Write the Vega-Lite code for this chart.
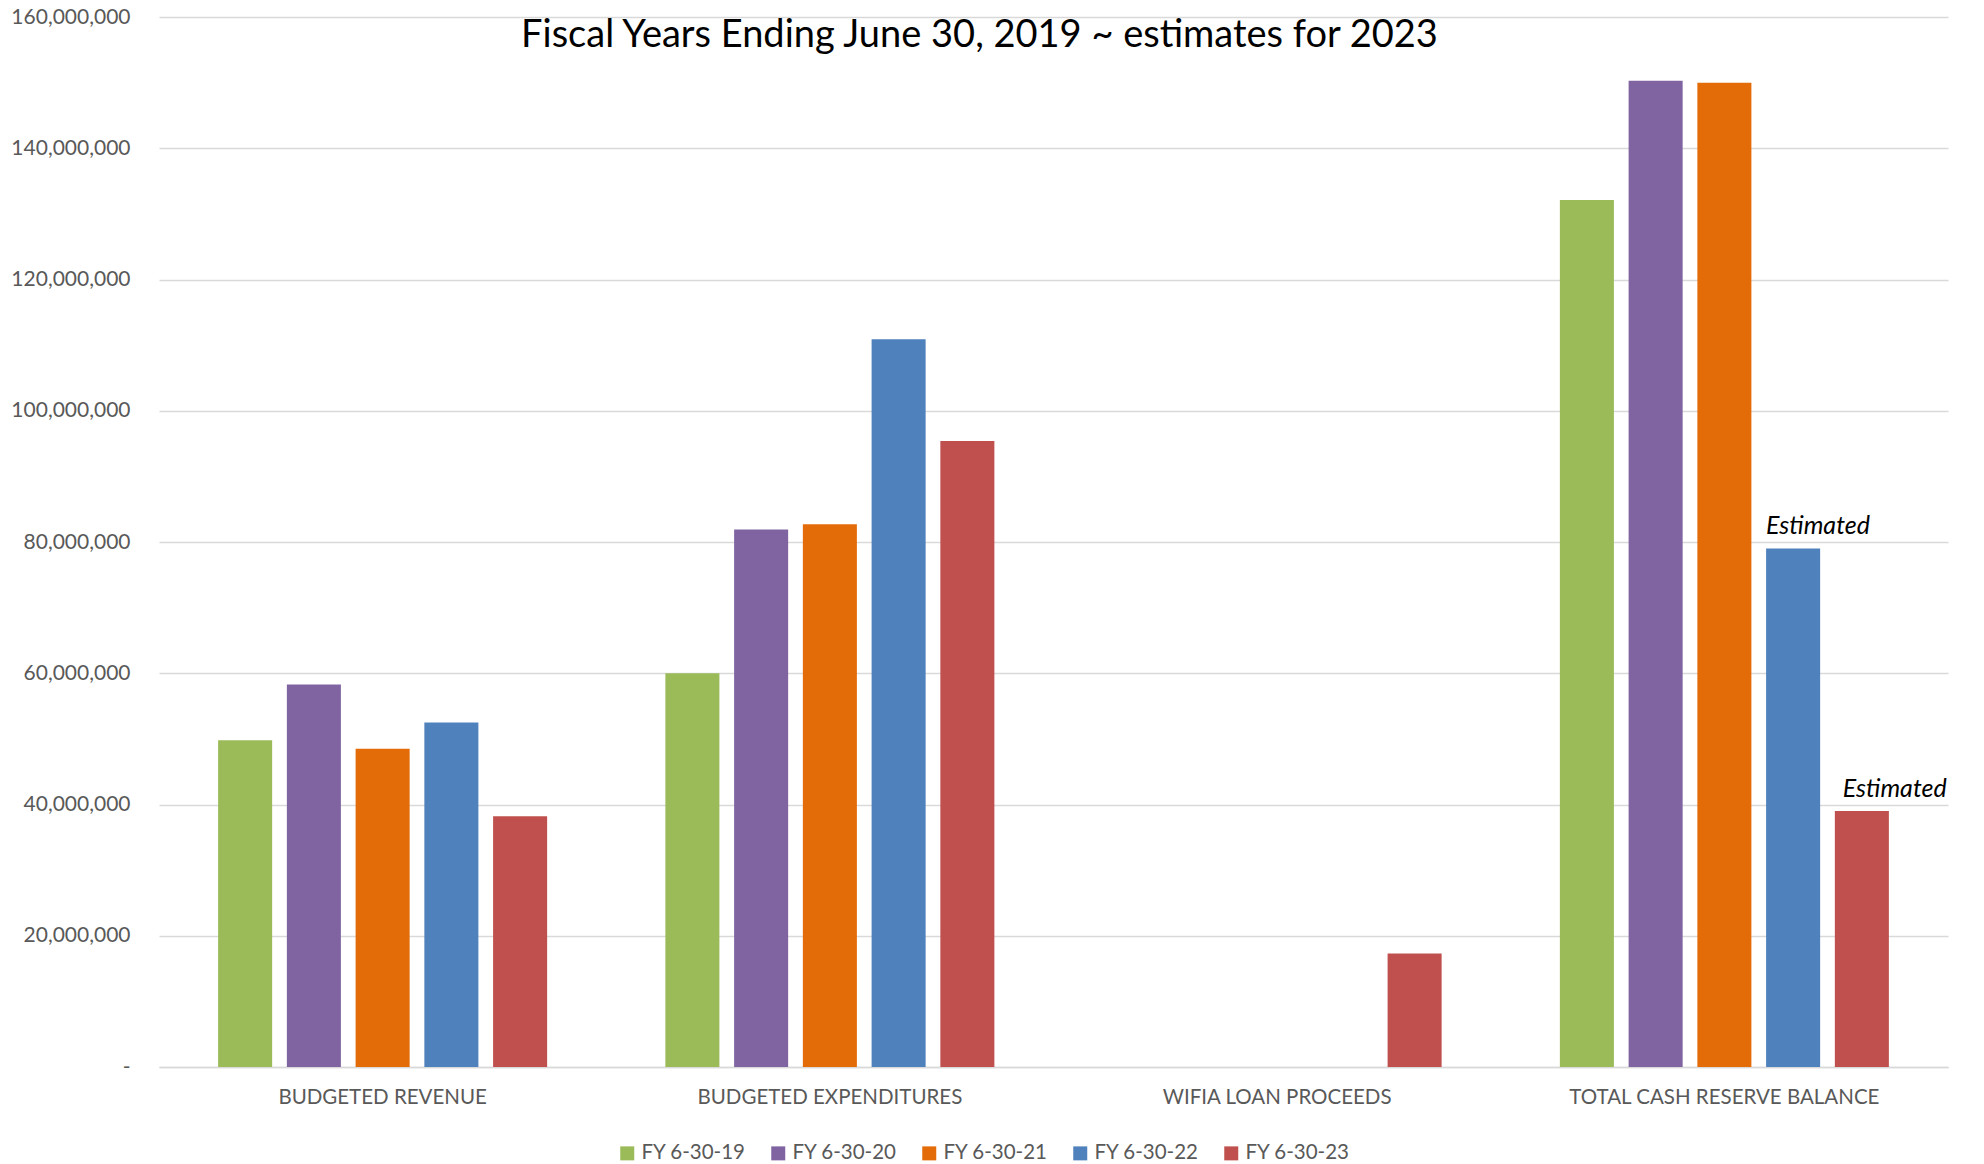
{
  "$schema": "https://vega.github.io/schema/vega-lite/v6.json",
  "width": 1789,
  "height": 1050,
  "autosize": "none",
  "padding": {"left": 159, "top": 17, "right": 36, "bottom": 97},
  "background": "white",
  "title": {
    "text": "Fiscal Years Ending June 30, 2019 ~ estimates for 2023",
    "font": "Lato",
    "fontSize": 38,
    "fontWeight": "normal",
    "color": "#000000",
    "anchor": "middle",
    "frame": "group",
    "dx": -74,
    "offset": -49
  },
  "data": {
    "values": [
      {"category": "BUDGETED REVENUE", "year": "FY 6-30-19", "value": 49800000},
      {"category": "BUDGETED REVENUE", "year": "FY 6-30-20", "value": 58300000},
      {"category": "BUDGETED REVENUE", "year": "FY 6-30-21", "value": 48500000},
      {"category": "BUDGETED REVENUE", "year": "FY 6-30-22", "value": 52500000},
      {"category": "BUDGETED REVENUE", "year": "FY 6-30-23", "value": 38200000},
      {"category": "BUDGETED EXPENDITURES", "year": "FY 6-30-19", "value": 60000000},
      {"category": "BUDGETED EXPENDITURES", "year": "FY 6-30-20", "value": 81900000},
      {"category": "BUDGETED EXPENDITURES", "year": "FY 6-30-21", "value": 82700000},
      {"category": "BUDGETED EXPENDITURES", "year": "FY 6-30-22", "value": 110900000},
      {"category": "BUDGETED EXPENDITURES", "year": "FY 6-30-23", "value": 95400000},
      {"category": "WIFIA LOAN PROCEEDS", "year": "FY 6-30-23", "value": 17300000},
      {"category": "TOTAL CASH RESERVE BALANCE", "year": "FY 6-30-19", "value": 132100000},
      {"category": "TOTAL CASH RESERVE BALANCE", "year": "FY 6-30-20", "value": 150300000},
      {"category": "TOTAL CASH RESERVE BALANCE", "year": "FY 6-30-21", "value": 150000000},
      {"category": "TOTAL CASH RESERVE BALANCE", "year": "FY 6-30-22", "value": 79000000, "note": "Estimated"},
      {"category": "TOTAL CASH RESERVE BALANCE", "year": "FY 6-30-23", "value": 39000000, "note": "Estimated"}
    ]
  },
  "config": {
    "view": {"stroke": null},
    "axis": {"labelFont": "Lato", "labelColor": "#595959", "labelFontSize": 20, "ticks": false}
  },
  "encoding": {
    "x": {
      "field": "category",
      "type": "nominal",
      "sort": ["BUDGETED REVENUE", "BUDGETED EXPENDITURES", "WIFIA LOAN PROCEEDS", "TOTAL CASH RESERVE BALANCE"],
      "scale": {"paddingInner": 0, "paddingOuter": 0},
      "axis": {"title": null, "labelAngle": 0, "labelPadding": 20, "labelLimit": 600, "labelFontSize": 20.5, "domainColor": "#d9d9d9", "domainWidth": 1.5, "grid": false}
    },
    "xOffset": {
      "field": "year",
      "type": "nominal",
      "sort": ["FY 6-30-19", "FY 6-30-20", "FY 6-30-21", "FY 6-30-22", "FY 6-30-23"],
      "scale": {"paddingInner": 0.214, "paddingOuter": 0.86}
    },
    "y": {
      "field": "value",
      "type": "quantitative",
      "scale": {"domain": [0, 160000000], "nice": false},
      "axis": {
        "title": null,
        "values": [0, 20000000, 40000000, 60000000, 80000000, 100000000, 120000000, 140000000, 160000000],
        "labelExpr": "datum.value === 0 ? '-\u00a0\u00a0' : format(datum.value, ',')",
        "labelPadding": 29,
        "labelFontSize": 21,
        "domain": false,
        "gridColor": "#d9d9d9",
        "gridWidth": 1.3
      }
    }
  },
  "layer": [
    {
      "mark": {"type": "bar"},
      "encoding": {
        "color": {
          "field": "year",
          "type": "nominal",
          "scale": {
            "domain": ["FY 6-30-19", "FY 6-30-20", "FY 6-30-21", "FY 6-30-22", "FY 6-30-23"],
            "range": ["#9BBB59", "#8064A2", "#E36C09", "#4F81BD", "#C0504D"]
          },
          "legend": {
            "title": null,
            "orient": "none",
            "legendX": 458,
            "legendY": 1126,
            "direction": "horizontal",
            "symbolType": "square",
            "symbolSize": 196,
            "symbolStrokeWidth": 0,
            "labelFont": "Lato",
            "labelFontSize": 20.5,
            "labelColor": "#595959",
            "labelOffset": 4,
            "columnPadding": 22
          }
        }
      }
    },
    {
      "transform": [{"filter": "datum.note && datum.year === 'FY 6-30-22'"}],
      "mark": {"type": "text", "align": "left", "baseline": "alphabetic", "dx": -27, "dy": -15, "font": "Lato", "fontStyle": "italic", "fontSize": 25, "color": "#000000"},
      "encoding": {"text": {"field": "note"}}
    },
    {
      "transform": [{"filter": "datum.note && datum.year === 'FY 6-30-23'"}],
      "mark": {"type": "text", "align": "left", "baseline": "alphabetic", "dx": -19, "dy": -14, "font": "Lato", "fontStyle": "italic", "fontSize": 25, "color": "#000000"},
      "encoding": {"text": {"field": "note"}}
    }
  ]
}
